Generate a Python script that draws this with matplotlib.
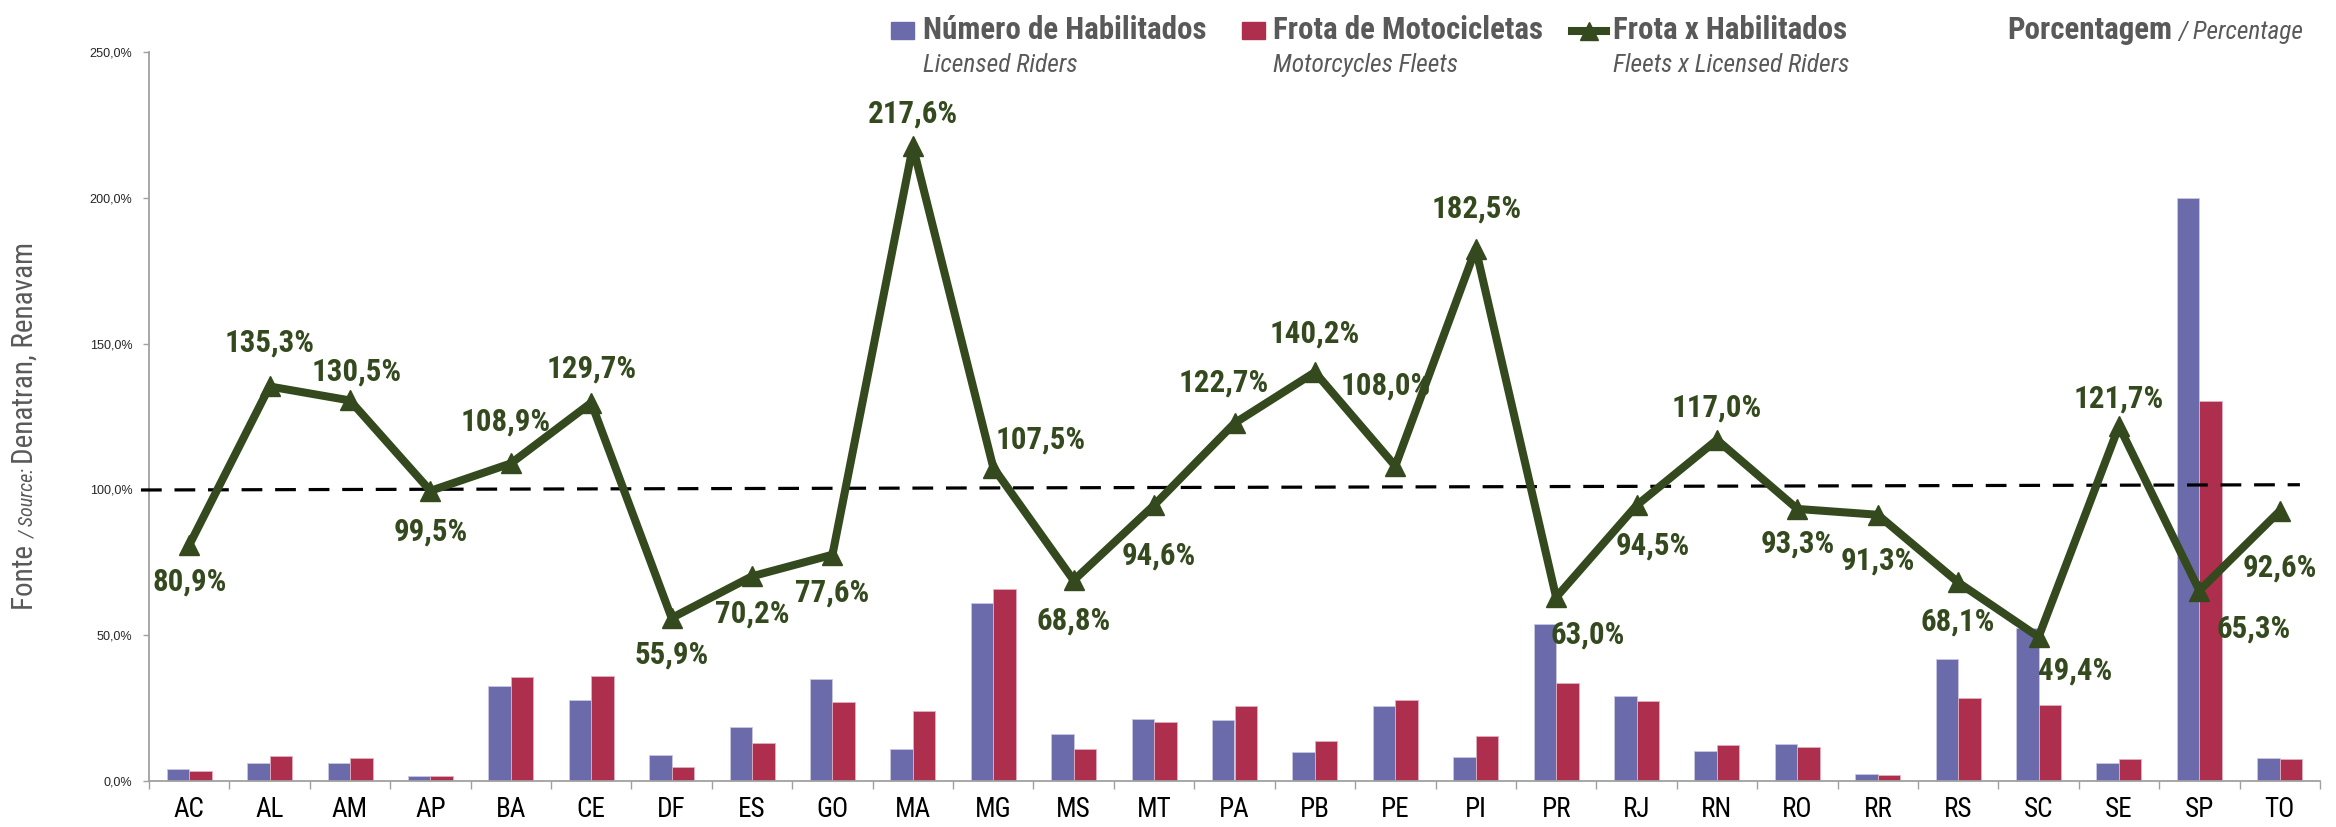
import numpy as np
import matplotlib
matplotlib.use('Agg')
import matplotlib.pyplot as plt
from matplotlib import font_manager
from matplotlib.lines import Line2D
from matplotlib.patches import Rectangle

# dados / data
states = ['AC', 'AL', 'AM', 'AP', 'BA', 'CE', 'DF', 'ES', 'GO', 'MA', 'MG', 'MS', 'MT', 'PA',
          'PB', 'PE', 'PI', 'PR', 'RJ', 'RN', 'RO', 'RR', 'RS', 'SC', 'SE', 'SP', 'TO']
habilitados = [4.2, 6.2, 6.1, 1.7, 32.7, 27.7, 9.0, 18.4, 34.9, 11.0, 61.2, 16.0, 21.3, 21.0,
               9.8, 25.7, 8.2, 53.7, 29.1, 10.3, 12.7, 2.5, 41.9, 52.6, 6.3, 200.0, 8.0]
frota = [3.3, 8.5, 7.9, 1.7, 35.6, 35.9, 4.9, 12.9, 27.0, 24.0, 65.9, 11.0, 20.1, 25.8,
         13.8, 27.9, 15.3, 33.7, 27.5, 12.2, 11.8, 2.2, 28.6, 25.9, 7.7, 130.4, 7.4]
frota_x_hab = [80.9, 135.3, 130.5, 99.5, 108.9, 129.7, 55.9, 70.2, 77.6, 217.6, 107.5, 68.8, 94.6,
               122.7, 140.2, 108.0, 182.5, 63.0, 94.5, 117.0, 93.3, 91.3, 68.1, 49.4, 121.7, 65.3, 92.6]
ref_x = [-0.6, 26.25]
ref_y = [99.8, 101.6]
yticks = [0, 50, 100, 150, 200, 250]

# label offsets in points (dx, dy)
label_off = [(0, -26), (0, 32), (5, 21), (0, -29), (-4, 30), (0, 25), (0, -26), (0, -27),
             (0, -27), (0, 24), (34, 20), (0, -29), (3, -36), (-8, 29), (0, 28), (-7, 58),
             (1, 29), (23, -27), (12, -29), (0, 23), (0, -25), (0, -33), (0, -28), (26, -24),
             (0, 20), (39, -27), (0, -41)]

# narrow font: take what is installed
names = set(f.name for f in font_manager.fontManager.ttflist)


def pick_narrow():
    for nm in ['Liberation Sans Narrow', 'Arial Narrow', 'Roboto Condensed', 'Open Sans Condensed',
               'Noto Sans Condensed', 'Noto Sans Display Condensed']:
        if nm in names:
            return dict(family=nm)
    for fam in ['Roboto', 'Noto Sans', 'Open Sans', 'Liberation Sans', 'Inter', 'Lato']:
        for f in font_manager.fontManager.ttflist:
            s = f.stretch
            if isinstance(s, str):
                s = font_manager.stretch_dict.get(s, 500)
            if f.name == fam and s < 500:
                return dict(family=fam, stretch='condensed')
    return dict(family='DejaVu Sans', stretch='condensed')


NARROW = pick_narrow()
REG = 'Liberation Sans' if 'Liberation Sans' in names else 'DejaVu Sans'

BLUE = '#6b6bab'
RED = '#ae2e4d'
GREEN = '#344a1e'
GRAY = '#595959'

W, H = 2336, 827
fig = plt.figure(figsize=(W / 100, H / 100), dpi=100)
r = fig.canvas.get_renderer()


def fit(txt, target, **kw):
    # font size that gives the text a target width in pixels
    t = fig.text(0, 0, txt, fontsize=20, **kw)
    w = t.get_window_extent(r).width
    t.remove()
    return 20 * target / w


ax = fig.add_axes([149 / W, 46 / H, (2320 - 149) / W, (781 - 52) / H])

x = np.arange(len(states))
bw = 0.28
ax.bar(x - bw / 2, habilitados, bw, color=BLUE, edgecolor='#c8c8e0', linewidth=0.6, zorder=2)
ax.bar(x + bw / 2, frota, bw, color=RED, edgecolor='#e0b0c0', linewidth=0.6, zorder=2)

ax.plot(ref_x, ref_y, color='black', lw=2.3, ls=(0, (6.5, 4)), zorder=3, clip_on=False)
ax.plot(x, frota_x_hab, color=GREEN, lw=5.8, marker='^', ms=15, zorder=4)

lab_fs = fit('217,6%', 90, fontweight='bold', **NARROW)
for i, v in enumerate(frota_x_hab):
    dx, dy = label_off[i]
    ax.annotate(f'{v:.1f}%'.replace('.', ','), (i, v), xytext=(dx, dy),
                textcoords='offset points', ha='center', va='center',
                fontsize=lab_fs, fontweight='bold', color=GREEN, zorder=5, **NARROW)

ax.set_xlim(-0.5, len(states) - 0.5)
ax.set_ylim(0, 250)
ax.set_yticks(yticks)
ax.set_yticklabels([f'{t:.1f}%'.replace('.', ',') for t in yticks],
                   fontsize=fit('250,0%', 43, family=REG), family=REG, color='#262626')
ax.set_xticks(x)
ax.set_xticklabels(states, fontsize=fit('AC', 31, **NARROW), **NARROW)
ax.set_xticks(np.arange(len(states) + 1) - 0.5, minor=True)
ax.tick_params(axis='x', which='major', length=0, pad=11)
ax.tick_params(axis='x', which='minor', length=6, width=1, color='#a0a0a0', direction='out')
ax.tick_params(axis='y', length=4, width=1, color='#a0a0a0', pad=8)
for s in ['top', 'right']:
    ax.spines[s].set_visible(False)
for s in ['left', 'bottom']:
    ax.spines[s].set_color('#a0a0a0')
    ax.spines[s].set_linewidth(1.3)


def seq_text_v(x0, y0, parts):
    # rotated text pieces going up from y0 (pixels from top)
    pos = y0
    for txt, kw in parts:
        t = fig.text(x0 / W, 1 - pos / H, txt, ha='left', va='baseline', rotation=90,
                     rotation_mode='anchor', **kw)
        pos -= t.get_window_extent(r).height


# y label
big = dict(fontsize=fit('Denatran, Renavam', 221, **NARROW), color=GRAY, **NARROW)
ital = dict(fontsize=fit('/ Source:', 70, style='italic', **NARROW), style='italic',
            color=GRAY, **NARROW)
seq_text_v(33, 610, [('Fonte ', big), ('/ Source: ', ital), ('Denatran, Renavam', big)])

# legend
head = dict(fontsize=fit('Número de Habilitados', 283, fontweight='bold', **NARROW),
            fontweight='bold', color=GRAY, **NARROW)
sub = dict(fontsize=fit('Licensed Riders', 155, style='italic', **NARROW), style='italic',
           color=GRAY, **NARROW)
fig.patches.append(Rectangle((891 / W, 1 - 39 / H), 23 / W, 17 / H, transform=fig.transFigure,
                             color=BLUE, figure=fig))
fig.text(923 / W, 1 - 39 / H, 'Número de Habilitados', ha='left', va='baseline', **head)
fig.text(923 / W, 1 - 72 / H, 'Licensed Riders', ha='left', va='baseline', **sub)
fig.patches.append(Rectangle((1242 / W, 1 - 39 / H), 23 / W, 17 / H, transform=fig.transFigure,
                             color=RED, figure=fig))
fig.text(1273 / W, 1 - 39 / H, 'Frota de Motocicletas', ha='left', va='baseline', **head)
fig.text(1273 / W, 1 - 72 / H, 'Motorcycles Fleets', ha='left', va='baseline', **sub)
fig.lines.append(Line2D([1572 / W, 1606 / W], [1 - 31 / H, 1 - 31 / H], transform=fig.transFigure,
                        color=GREEN, lw=5.8, figure=fig))
fig.lines.append(Line2D([1589 / W], [1 - 31 / H], transform=fig.transFigure, color=GREEN,
                        marker='^', ms=13, ls='None', figure=fig))
fig.text(1613 / W, 1 - 39 / H, 'Frota x Habilitados', ha='left', va='baseline', **head)
fig.text(1613 / W, 1 - 72 / H, 'Fleets x Licensed Riders', ha='left', va='baseline', **sub)

t2 = fig.text(2303 / W, 1 - 39 / H, '/ Percentage', ha='right', va='baseline',
              fontsize=fit('/ Percentage', 125, style='italic', **NARROW), style='italic',
              color=GRAY, **NARROW)
w2 = t2.get_window_extent(r).width
fig.text((2303 - w2 - 6) / W, 1 - 39 / H, 'Porcentagem', ha='right', va='baseline', **head)

fig.savefig('out.png', dpi=100, facecolor='white')
